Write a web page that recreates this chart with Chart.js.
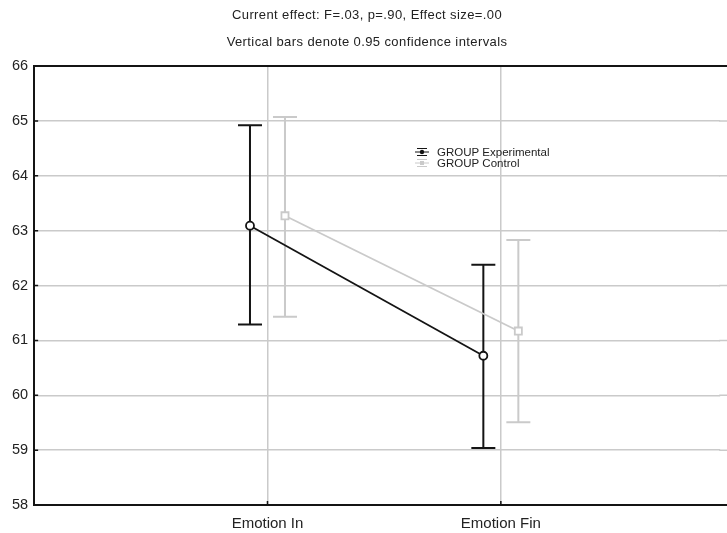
<!DOCTYPE html>
<html>
<head>
<meta charset="utf-8">
<script src="https://cdn.jsdelivr.net/npm/chart.js@4/dist/chart.umd.min.js"></script>
<style>
  html, body { margin: 0; padding: 0; background: #fff; overflow: hidden; }
  canvas { display: block; }
</style>
</head>
<body>
<canvas id="chart" width="727" height="533"></canvas>
<script>
const categories = ['Emotion In', 'Emotion Fin'];
const seriesNames = ['GROUP Experimental', 'GROUP Control'];
const expMean = [63.09, 60.72];
const expLow = [61.29, 59.04];
const expHigh = [64.92, 62.38];
const ctrlMean = [63.27, 61.17];
const ctrlLow = [61.43, 59.51];
const ctrlHigh = [65.07, 62.83];
const titleLines = [
  'Current effect: F=.03, p=.90, Effect size=.00',
  'Vertical bars denote 0.95 confidence intervals'
];
const yMin = 58, yMax = 66;

const FONT = '"Liberation Sans", Arial, sans-serif';
const DARK = '#141414';
const LIGHT = '#cacaca';
const SHIFT = 0.075;

const toPoints = (vals, dx) => vals.map((v, i) => ({ x: i + 1 + dx, y: v }));

const errorBars = {
  id: 'errorBars',
  beforeDatasetsDraw(chart) {
    const { ctx, chartArea: a, scales: { x, y } } = chart;
    ctx.save();
    // horizontal grid runs on past the right edge of the canvas
    ctx.strokeStyle = LIGHT;
    ctx.lineWidth = 1.5;
    ctx.beginPath();
    for (let v = yMin + 1; v < yMax; v++) {
      const py = y.getPixelForValue(v);
      ctx.moveTo(a.right - 1, py); ctx.lineTo(chart.width, py);
    }
    ctx.stroke();
    const sets = [
      { low: expLow, high: expHigh, dx: -SHIFT, color: DARK },
      { low: ctrlLow, high: ctrlHigh, dx: SHIFT, color: LIGHT }
    ];
    ctx.lineWidth = 2;
    sets.forEach(s => {
      ctx.strokeStyle = s.color;
      s.low.forEach((lo, i) => {
        const px = x.getPixelForValue(i + 1 + s.dx);
        const top = y.getPixelForValue(s.high[i]);
        const bot = y.getPixelForValue(lo);
        ctx.beginPath();
        ctx.moveTo(px, top); ctx.lineTo(px, bot);
        ctx.moveTo(px - 12, top); ctx.lineTo(px + 12, top);
        ctx.moveTo(px - 12, bot); ctx.lineTo(px + 12, bot);
        ctx.stroke();
      });
    });
    ctx.restore();
  }
};

const frameAndLegend = {
  id: 'frameAndLegend',
  afterDraw(chart) {
    const { ctx, chartArea: a, scales: { x, y } } = chart;
    ctx.save();
    // titles
    ctx.fillStyle = '#222';
    ctx.font = '13px ' + FONT;
    ctx.letterSpacing = '0.4px';
    ctx.textAlign = 'center';
    ctx.textBaseline = 'middle';
    ctx.fillText(titleLines[0], 367, 15);
    ctx.fillText(titleLines[1], 367, 42);
    ctx.letterSpacing = '0px';
    // frame (top and bottom run off the right edge)
    ctx.strokeStyle = DARK;
    ctx.lineWidth = 2;
    ctx.beginPath();
    ctx.moveTo(a.left - 1, a.top); ctx.lineTo(chart.width, a.top);
    ctx.moveTo(a.left - 1, a.bottom); ctx.lineTo(chart.width, a.bottom);
    ctx.stroke();
    // small inner tick marks
    ctx.lineWidth = 1.5;
    ctx.beginPath();
    for (let v = yMin + 1; v < yMax; v++) {
      const py = y.getPixelForValue(v);
      ctx.moveTo(a.left, py); ctx.lineTo(a.left + 4, py);
    }
    categories.forEach((c, i) => {
      const px = x.getPixelForValue(i + 1);
      ctx.moveTo(px, a.bottom); ctx.lineTo(px, a.bottom - 4);
    });
    ctx.stroke();
    // legend
    const items = [
      { name: seriesNames[0], color: DARK, y: 152, shape: 'circle' },
      { name: seriesNames[1], color: LIGHT, y: 163, shape: 'square' }
    ];
    items.forEach(it => {
      const cx = 422;
      ctx.strokeStyle = it.color;
      ctx.lineWidth = 1;
      ctx.beginPath();
      ctx.moveTo(cx - 7, it.y); ctx.lineTo(cx + 7, it.y);
      ctx.moveTo(cx - 5, it.y - 3.5); ctx.lineTo(cx + 5, it.y - 3.5);
      ctx.moveTo(cx - 5, it.y + 3.5); ctx.lineTo(cx + 5, it.y + 3.5);
      ctx.stroke();
      ctx.fillStyle = it.color;
      ctx.beginPath();
      if (it.shape === 'circle') ctx.arc(cx, it.y, 2.2, 0, Math.PI * 2);
      else ctx.rect(cx - 2, it.y - 2, 4, 4);
      ctx.fill();
      ctx.fillStyle = '#222';
      ctx.font = '11.5px ' + FONT;
      ctx.textAlign = 'left';
      ctx.fillText(it.name, 437, it.y + 0.5);
    });
    ctx.restore();
  }
};

new Chart(document.getElementById('chart'), {
  type: 'line',
  data: {
    datasets: [
      {
        label: seriesNames[0],
        data: toPoints(expMean, -SHIFT),
        borderColor: DARK,
        borderWidth: 1.8,
        pointStyle: 'circle',
        pointRadius: 4,
        pointBorderWidth: 1.8,
        pointBackgroundColor: '#fff',
        pointBorderColor: DARK,
        order: 1
      },
      {
        label: seriesNames[1],
        data: toPoints(ctrlMean, SHIFT),
        borderColor: LIGHT,
        borderWidth: 1.8,
        pointStyle: 'rect',
        pointRadius: 5,
        pointBorderWidth: 1.8,
        pointBackgroundColor: '#fff',
        pointBorderColor: LIGHT,
        order: 2
      }
    ]
  },
  options: {
    responsive: false,
    animation: false,
    layout: { padding: { top: 66, left: 6, right: 0, bottom: 0 } },
    plugins: {
      legend: { display: false },
      title: { display: false },
      tooltip: { enabled: false }
    },
    scales: {
      x: {
        type: 'linear',
        min: 0,
        max: 2.94,
        afterBuildTicks: axis => { axis.ticks = categories.map((c, i) => ({ value: i + 1 })); },
        afterFit: axis => { axis.height = 28; },
        grid: { color: LIGHT, lineWidth: 1.5, drawTicks: false },
        border: { color: DARK, width: 2 },
        ticks: {
          padding: 10,
          color: '#222',
          maxRotation: 0,
          font: { family: FONT, size: 15 },
          callback: v => categories[v - 1] || ''
        }
      },
      y: {
        min: yMin,
        max: yMax,
        grid: { color: LIGHT, lineWidth: 1.5, drawTicks: false },
        border: { color: DARK, width: 2 },
        ticks: {
          stepSize: 1,
          padding: 6,
          color: '#222',
          font: { family: FONT, size: 14.5 }
        }
      }
    }
  },
  plugins: [errorBars, frameAndLegend]
});
</script>
</body>
</html>
